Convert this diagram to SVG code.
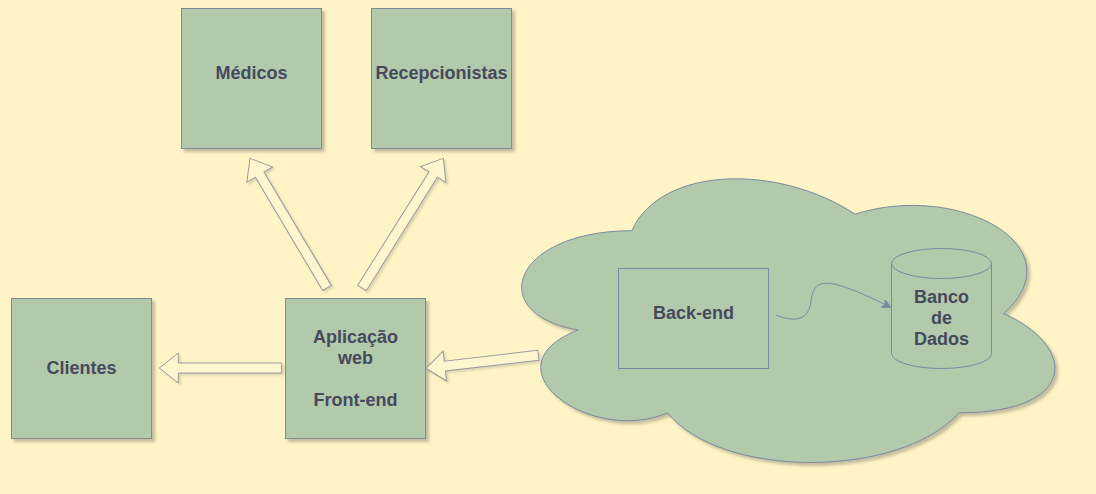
<svg xmlns="http://www.w3.org/2000/svg" width="1096" height="494" viewBox="0 0 1096 494">
<defs>
<style>
.bg{fill:#FFF4C5}
.box{fill:#B2C9AB;stroke:#7E8A94;stroke-width:1}
.inner{fill:#B2C9AB;stroke:#788AA3;stroke-width:1}
.cloud{fill:#B2C9AB;stroke:#788AA3;stroke-width:1}
.lbl{font-family:"Liberation Sans",Arial,sans-serif;font-weight:bold;font-size:18px;fill:#46495D;text-anchor:middle}
.flex{fill:#FFF6D0;stroke:#9A9A9A;stroke-width:1;stroke-linejoin:miter}
.edge{fill:none;stroke:#788AA3;stroke-width:1}
</style>
<filter id="sh" x="-10%" y="-10%" width="130%" height="130%">
<feDropShadow dx="3" dy="3" stdDeviation="1.6" flood-color="#555555" flood-opacity="0.35"/>
</filter>
<filter id="sh2" x="-10%" y="-10%" width="130%" height="130%">
<feDropShadow dx="2" dy="2" stdDeviation="1.2" flood-color="#777777" flood-opacity="0.25"/>
</filter>
<marker id="ah" viewBox="0 0 10 10" refX="9" refY="5" markerWidth="9" markerHeight="9" markerUnits="userSpaceOnUse" orient="auto">
<path d="M0,0 L10,5 L0,10 L3,5 Z" fill="#788AA3" stroke="#788AA3"/>
</marker>
</defs>
<rect class="bg" x="0" y="0" width="1096" height="494"/>

<g id="cloud">
<path class="cloud" filter="url(#sh)" d="M631.75,230.75 C512.75,230.75 483,313.5 578.2,330.05 C483,366.46 590.1,445.9 667.45,412.8 C721,479 899.5,479 959,412.8 C1078,412.8 1078,346.6 1003.6,313.5 C1078,247.3 959,181.1 854.9,214.2 C780.5,164.55 661.5,164.55 631.75,230.75 Z"/>
</g>

<g id="medicos">
<rect class="box" filter="url(#sh)" x="181.5" y="8.5" width="140" height="140"/>
<text class="lbl" x="251.5" y="78.8">Médicos</text>
</g>

<g id="recepcionistas">
<rect class="box" filter="url(#sh)" x="371.5" y="8.5" width="140" height="140"/>
<text class="lbl" x="441.5" y="78.8">Recepcionistas</text>
</g>

<g id="clientes">
<rect class="box" filter="url(#sh)" x="11.5" y="298.5" width="140" height="140"/>
<text class="lbl" x="81.5" y="373.8">Clientes</text>
</g>

<g id="frontend">
<rect class="box" filter="url(#sh)" x="285.5" y="298.5" width="140" height="140"/>
<text class="lbl" x="355.5" y="342.8">Aplicação</text>
<text class="lbl" x="355.5" y="363.8">web</text>
<text class="lbl" x="355.5" y="405.8">Front-end</text>
</g>

<g id="backend">
<rect class="inner" x="618.5" y="268.5" width="150" height="100"/>
<text class="lbl" x="693.5" y="318.8">Back-end</text>
</g>

<g id="banco">
<path class="inner" d="M891.5,263.5 A50,15 0 0,1 991.5,263.5 V353.5 A50,15 0 0,1 891.5,353.5 Z"/>
<path class="inner" fill="none" d="M891.5,263.5 A50,15 0 0,0 991.5,263.5"/>
<text class="lbl" x="941.5" y="302.8">Banco</text>
<text class="lbl" x="941.5" y="323.8">de</text>
<text class="lbl" x="941.5" y="344.8">Dados</text>
</g>

<g id="connectors">
<g filter="url(#sh2)">
<polygon class="flex" transform="translate(281.7,368) rotate(180)" points="0,-5 103.4,-5 103.4,-15 122.4,0 103.4,15 103.4,5 0,5"/>
<polygon class="flex" transform="translate(538.3,355.2) rotate(173.35)" points="0,-5 94.1,-5 94.1,-15 113.1,0 94.1,15 94.1,5 0,5"/>
<polygon class="flex" transform="translate(327,288) rotate(-120.7)" points="0,-5 131.8,-5 131.8,-15 150.8,0 131.8,15 131.8,5 0,5"/>
<polygon class="flex" transform="translate(362,288) rotate(-57.9)" points="0,-5 134,-5 134,-15 153,0 134,15 134,5 0,5"/>
</g>
<path class="edge" marker-end="url(#ah)" d="M776,315 C798,324 809,318 811,301 C813,283 822,281 838,285 C855,290 872,298 890,307"/>
</g>
</svg>
